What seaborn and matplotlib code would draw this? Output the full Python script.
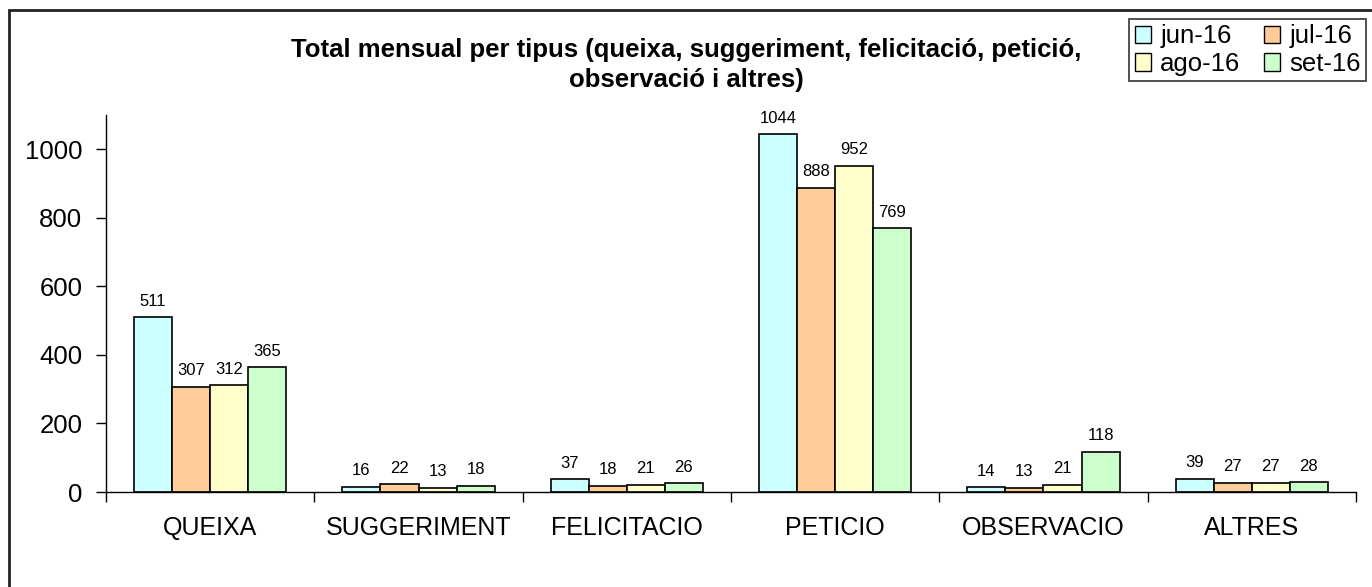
import pandas as pd
import seaborn as sns
import matplotlib.pyplot as plt
from matplotlib.patches import Rectangle, Patch

categories = ["QUEIXA", "SUGGERIMENT", "FELICITACIO", "PETICIO", "OBSERVACIO", "ALTRES"]
months = ["jun-16", "jul-16", "ago-16", "set-16"]
jun_16 = [511, 16, 37, 1044, 14, 39]
jul_16 = [307, 22, 18, 888, 13, 27]
ago_16 = [312, 13, 21, 952, 21, 27]
set_16 = [365, 18, 26, 769, 118, 28]
colors = ["#CCFFFF", "#FFCC99", "#FFFFCC", "#CCFFCC"]

rows = []
for month, vals in zip(months, [jun_16, jul_16, ago_16, set_16]):
    for cat, v in zip(categories, vals):
        rows.append({"tipus": cat, "mes": month, "valor": v})
df = pd.DataFrame(rows)

sns.set_style("white")
plt.rcParams["font.family"] = ["Liberation Sans", "DejaVu Sans"]
plt.rcParams["text.color"] = "black"
plt.rcParams["xtick.color"] = "black"
plt.rcParams["ytick.color"] = "black"

fig = plt.figure(figsize=(13.72, 5.87), dpi=100)
ax = fig.add_axes([106 / 1372, 1 - 492 / 587, 1250 / 1372, 377 / 587])

sns.barplot(
    data=df, x="tipus", y="valor", hue="mes", order=categories, hue_order=months,
    palette=colors, edgecolor="black", linewidth=1.2, width=0.73, saturation=1,
    ax=ax, legend=False,
)

for cont in ax.containers:
    ax.bar_label(cont, padding=6, fontsize=12, color="black")

ax.set_ylim(0, 1100)
ax.set_xlim(-0.5, len(categories) - 0.5)
ax.set_yticks(range(0, 1001, 200))
ax.set_xlabel("")
ax.set_ylabel("")

for s in ["top", "right"]:
    ax.spines[s].set_visible(False)
for s in ["left", "bottom"]:
    ax.spines[s].set_color("black")
    ax.spines[s].set_linewidth(1)

ax.tick_params(axis="y", which="major", direction="out", length=7, width=1,
               color="black", labelsize=18.5, pad=10, left=True)
ax.tick_params(axis="x", which="major", length=0, labelsize=18, pad=17)
ax.set_xticks([i + 0.5 for i in range(-1, len(categories))], minor=True)
ax.tick_params(axis="x", which="minor", direction="out", length=7, width=1,
               color="black", bottom=True)

fig.text(0.5, 1 - 65 / 587, "Total mensual per tipus (queixa, suggeriment, felicitació, petició,\nobservació i altres)",
         ha="center", va="center", fontsize=18.5, fontweight="bold", linespacing=1.3)

handles = [Patch(facecolor=c, edgecolor="black", linewidth=1) for c in colors]
order = [0, 2, 1, 3]
leg = fig.legend([handles[i] for i in order], [months[i] for i in order], ncol=2,
                 loc="upper right", bbox_to_anchor=(1366 / 1372, 1 - 19 / 587),
                 frameon=True, fancybox=False, fontsize=18.5, handlelength=0.65,
                 handleheight=0.65, handletextpad=0.35, columnspacing=0.9,
                 labelspacing=0.15, borderpad=0.2, borderaxespad=0)
leg.get_frame().set_edgecolor("black")
leg.get_frame().set_linewidth(1.2)

fig.add_artist(Rectangle((9 / 1372, -0.1), 1.2, 1.1 - 10 / 587, transform=fig.transFigure,
                         fill=False, edgecolor="#222222", linewidth=2))

fig.savefig("out.png", dpi=100)
